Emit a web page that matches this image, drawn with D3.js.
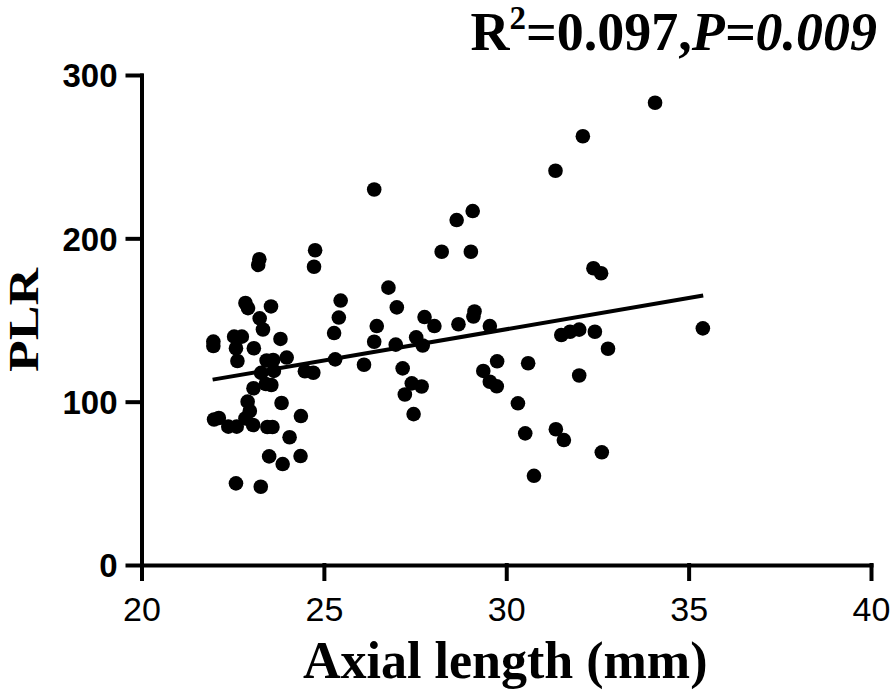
<!DOCTYPE html>
<html>
<head>
<meta charset="utf-8">
<script src="https://cdn.jsdelivr.net/npm/d3@7"></script>
<style>
    body { margin: 0; background: white; }
    .serifBold { font-family: "Liberation Serif", "Times New Roman", serif; font-weight: bold; }
</style>
</head>
<body>
<script>
// axial length (mm) of each patient
const axialLength = [
    21.97, 21.97, 21.99, 22.12, 22.38, 22.61, 22.54, 22.75, 22.59, 22.63,
    23.08, 22.85, 22.92, 23.23, 23.20, 23.55, 23.24, 23.33, 23.81, 23.98,
    23.43, 23.61, 23.28, 23.63, 23.07, 23.41, 23.56, 22.91, 22.97, 22.85,
    23.06, 23.45, 23.59, 23.84, 24.37, 24.06, 23.50, 23.87, 24.36, 22.59,
    23.27, 24.48, 24.71, 24.76, 24.73, 25.46, 25.41, 25.28, 25.31, 26.10,
    26.38, 26.77, 27.00, 26.45, 26.38, 26.97, 27.16, 27.76, 28.03, 27.53,
    27.71, 27.41, 27.68, 27.22, 27.46, 28.69, 29.13, 29.10, 29.55, 28.23,
    29.03, 28.64, 29.08, 29.75, 29.37, 29.55, 29.74, 30.60, 30.32, 30.52,
    30.76, 31.36, 31.58, 31.51, 31.75, 32.00, 32.43, 32.79, 32.00, 32.62,
    32.39, 32.60, 35.39, 31.35, 32.10, 34.08
];

// PLR for the same patients
const plr = [
    136.8, 134.1, 89.1, 90.0, 84.7, 84.7, 139.8, 139.8, 132.7, 124.9,
    132.7, 160.4, 157.3, 187.2, 183.7, 158.3, 151.0, 144.2, 138.4, 127.0,
    125.2, 125.5, 117.6, 118.8, 108.2, 110.8, 110.2, 100.0, 94.3, 89.8,
    85.7, 84.5, 84.5, 99.2, 91.2, 78.2, 66.5, 61.8, 66.7, 50.0,
    47.9, 118.6, 117.7, 192.7, 182.6, 161.9, 151.5, 142.0, 125.9, 122.6,
    229.9, 169.8, 157.7, 146.3, 136.7, 134.9, 120.4, 151.8, 146.3, 139.4,
    134.4, 111.2, 109.3, 104.4, 92.4, 147.4, 155.2, 152.1, 146.3, 191.8,
    191.8, 211.2, 216.7, 124.7, 118.8, 112.2, 109.4, 123.5, 99.0, 80.6,
    54.6, 83.1, 76.5, 140.8, 142.8, 144.1, 142.8, 132.4, 116.0, 69.0,
    181.7, 178.6, 144.9, 241.4, 262.5, 283.0
];

// fitted regression line, start and end
const fitX = [21.95, 35.4];
const fitY = [113.5, 165.0];

const xTicks = [20, 25, 30, 35, 40];
const yTicks = [0, 100, 200, 300];

function renderScatter() {
    const wSvg = 892;
    const hSvg = 700;
    const left = 141.5;
    const right = 871;
    const top = 75;
    const bottom = 565;

    let points = axialLength.map((x, i) => ({ x: x, y: plr[i] }));
    let fit = fitX.map((x, i) => ({ x: x, y: fitY[i] }));

    let xScale = d3.scaleLinear([20, 40], [left, right]);
    let yScale = d3.scaleLinear([0, 300], [bottom, top]);

    let svg = d3.select("body")
        .append("svg")
        .attr("width", wSvg)
        .attr("height", hSvg)
        .style("background-color", "white");

    let xAxis = d3.axisBottom(xScale)
        .tickValues(xTicks)
        .tickSize(14)
        .tickSizeOuter(0)
        .tickPadding(18);
    let gx = svg.append("g")
        .attr("transform", `translate(0, ${bottom})`)
        .call(xAxis);
    gx.selectAll("text")
        .attr("font-family", "Liberation Sans, Arial, sans-serif")
        .attr("font-size", 34)
        .attr("fill", "black");

    let yAxis = d3.axisLeft(yScale)
        .tickValues(yTicks)
        .tickSize(14)
        .tickSizeOuter(0)
        .tickPadding(10);
    let gy = svg.append("g")
        .attr("transform", `translate(${left}, 0)`)
        .call(yAxis);
    gy.selectAll("text")
        .attr("font-family", "Liberation Sans, Arial, sans-serif")
        .attr("font-weight", "bold")
        .attr("font-size", 33)
        .attr("dy", "0.36em")
        .attr("fill", "black");

    svg.selectAll(".domain, .tick line")
        .attr("stroke", "black")
        .attr("stroke-width", 4)
        .attr("stroke-linecap", "square");

    const lineMaker = d3.line()
        .x(d => xScale(d.x))
        .y(d => yScale(d.y));

    svg.append("path")
        .attr("d", lineMaker(fit))
        .attr("fill", "none")
        .attr("stroke", "black")
        .attr("stroke-width", 4);

    svg.append("g")
        .selectAll("circle")
        .data(points)
        .enter()
        .append("circle")
        .attr("cx", d => xScale(d.x))
        .attr("cy", d => yScale(d.y))
        .attr("r", 7.3)
        .attr("fill", "black");

    // axis titles
    svg.append("text")
        .attr("class", "serifBold")
        .attr("x", (left + right) / 2 - 1)
        .attr("y", 678)
        .attr("text-anchor", "middle")
        .attr("font-size", 52)
        .text("Axial length (mm)");

    // glyphs are narrow in the original, so squeeze the rotated label's height
    svg.append("text")
        .attr("class", "serifBold")
        .attr("transform", `translate(38, 320) rotate(-90) scale(1, 0.8)`)
        .attr("text-anchor", "middle")
        .attr("font-size", 52)
        .text("PLR");

    // statistics in the top right corner
    let stat = svg.append("text")
        .attr("class", "serifBold")
        .attr("x", 877)
        .attr("y", 50)
        .attr("text-anchor", "end")
        .attr("font-size", 54);
    stat.append("tspan").text("R");
    stat.append("tspan")
        .attr("font-size", 33)
        .attr("dy", -21)
        .text("2");
    stat.append("tspan")
        .attr("dy", 21)
        .text("=0.097,");
    stat.append("tspan")
        .attr("font-style", "italic")
        .text("P=0.009");
}

renderScatter();
</script>
</body>
</html>
